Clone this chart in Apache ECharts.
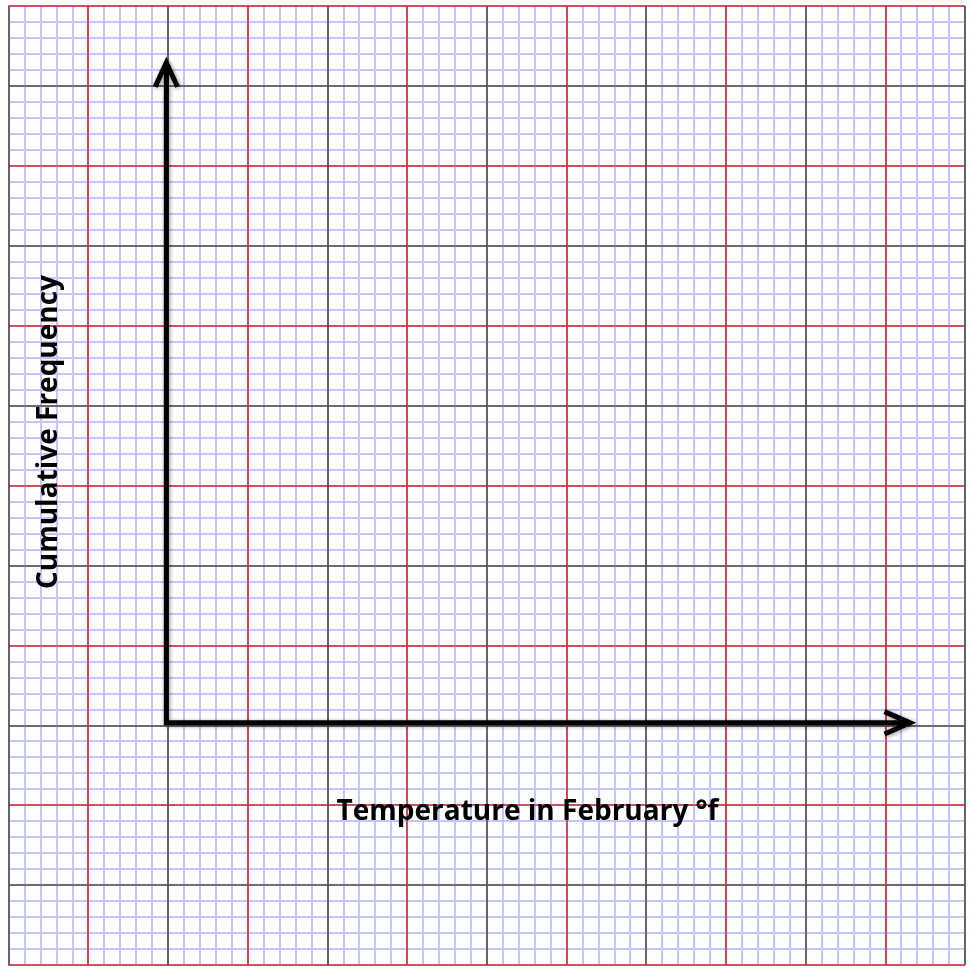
<!DOCTYPE html>
<html>
<head>
<meta charset="utf-8">
<script src="https://cdn.jsdelivr.net/npm/echarts@6/dist/echarts.min.js"></script>
<style>html,body{margin:0;padding:0;background:#fff;}#chart{width:974px;height:969px;}</style>
</head>
<body>
<div id="chart"></div>
<script>
// Graph-paper axes (no plotted data in the reference)
var xRange = [0, 12];
var yRange = [0, 12];
var minorPerMajor = 5;
var origin = [1.98, 3.03];
var axisEnds = [11.31, 11.29];
var arrowHeadY = [[1.84, 10.99], [1.98, 11.29], [2.12, 10.99]];
var arrowHeadX = [[10.99, 3.17], [11.31, 3.03], [10.99, 2.89]];
var xLabel = 'Temperature in February °f';
var yLabel = 'Cumulative Frequency';

var shaft = [[origin[0], axisEnds[1] - 0.05], [origin[0], origin[1]], [axisEnds[0] - 0.05, origin[1]]];

var chart = echarts.init(document.getElementById('chart'), null, {renderer: 'canvas'});
var blue = '#c4c4ff';
var lineStyleArrow = {color: '#000', width: 5, shadowBlur: 4, shadowColor: 'rgba(0,0,0,0.45)', shadowOffsetX: 1, shadowOffsetY: 1, cap: 'butt', join: 'miter'};
function arrowSeries(d) {
  return {type: 'line', data: d, symbol: 'none', silent: true, animation: false, lineStyle: lineStyleArrow, z: 10};
}
function hiddenBits() {
  return {axisLine: {show: false}, axisTick: {show: false}, axisLabel: {show: false}};
}
function minorAxis() {
  return Object.assign({
    type: 'value', min: xRange[0] * minorPerMajor, max: xRange[1] * minorPerMajor, interval: 1, z: 0,
    splitLine: {show: true, lineStyle: {color: blue, width: 2}}
  }, hiddenBits());
}
function majorAxis(colors) {
  return Object.assign({
    type: 'value', min: xRange[0], max: xRange[1], interval: 1, z: 1,
    splitLine: {show: true, lineStyle: {color: colors, width: 1.6}}
  }, hiddenBits());
}
var xMinor = minorAxis();
var yMinor = minorAxis();
yMinor.min = yRange[0] * minorPerMajor; yMinor.max = yRange[1] * minorPerMajor;
var xMajor = majorAxis(['#4d4d4d', '#d42a2a']);
var yMajor = majorAxis(['#d42a2a', '#4d4d4d']);
yMajor.min = yRange[0]; yMajor.max = yRange[1];

chart.setOption({
  backgroundColor: '#fff',
  animation: false,
  grid: {left: 8.5, right: 9, top: 6, bottom: 4, containLabel: false},
  xAxis: [xMajor, xMinor],
  yAxis: [yMajor, yMinor],
  graphic: [
    {type: 'text', x: 527.5, y: 812, style: {text: xLabel, font: 'bold 28px "Open Sans"', fill: '#000', align: 'center', verticalAlign: 'middle'}, z: 20},
    {type: 'text', x: 49.5, y: 432, rotation: Math.PI / 2, style: {text: yLabel, font: 'bold 28px "Open Sans"', fill: '#000', align: 'center', verticalAlign: 'middle'}, z: 20}
  ],
  series: [arrowSeries(shaft), arrowSeries(arrowHeadY), arrowSeries(arrowHeadX)]
});
</script>
</body>
</html>
